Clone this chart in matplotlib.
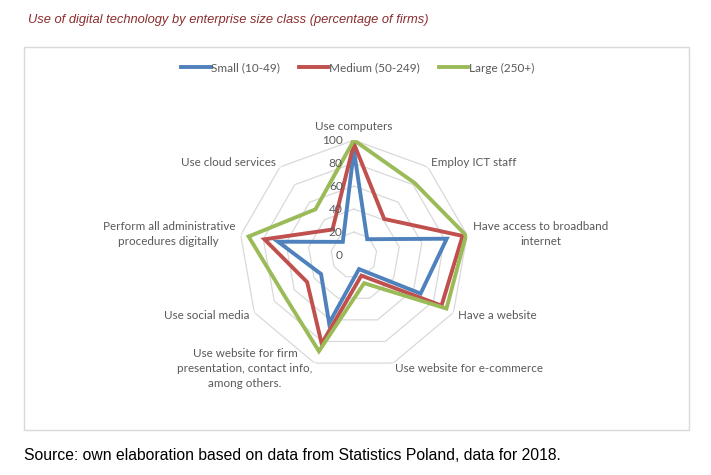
import numpy as np
import matplotlib
matplotlib.use("Agg")
import matplotlib.pyplot as plt
from matplotlib.patches import Rectangle

plt.rcParams['font.family'] = ['Lato', 'DejaVu Sans']

categories = ["Use computers", "Employ ICT staff",
              "Have access to broadband\ninternet", "Have a website",
              "Use website for e-commerce",
              "Use website for firm\npresentation, contact info,\namong others.",
              "Use social media",
              "Perform all administrative\nprocedures digitally",
              "Use cloud services"]
small = [91, 18, 82, 67, 13, 63, 33, 67, 15]
medium = [97, 41, 96, 88, 19, 82, 47, 79, 29]
large = [100, 82, 99, 93, 26, 89, 70, 93, 52]
series_names = ["Small (10-49)", "Medium (50-249)", "Large (250+)"]
colors = ["#4F81BD", "#C0504D", "#9BBB59"]
r_ticks = [0, 20, 40, 60, 80, 100]

n = len(categories)
theta = np.arange(n) * 2 * np.pi / n

fig = plt.figure(figsize=(7.11, 4.75), dpi=100)

# chart frame
fig.add_artist(Rectangle((24 / 711, 1 - 430 / 475), 665 / 711, 383 / 475,
                         transform=fig.transFigure, fill=False,
                         edgecolor="#d9d9d9", linewidth=1))

ax = fig.add_axes([0.336, 0.221, 0.3235, 0.484], projection="polar")
ax.set_theta_zero_location("N")
ax.set_theta_direction(-1)
ax.set_ylim(0, 100)
ax.grid(False)
ax.spines["polar"].set_visible(False)
ax.set_xticks([])
ax.set_yticks([])
ax.patch.set_alpha(0)

# polygon gridlines
tc = np.append(theta, theta[0])
for r in r_ticks[1:]:
    ax.plot(tc, [r] * (n + 1), color="#d9d9d9", lw=0.9, zorder=1)

for vals, col, name in zip([small, medium, large], colors, series_names):
    v = list(vals) + [vals[0]]
    ax.plot(tc, v, color=col, lw=2.8, label=name, zorder=3,
            solid_joinstyle="miter")

for r in r_ticks:
    ax.annotate(str(r), (0, r), xytext=(-8, 0), textcoords="offset points",
                ha="right", va="center", fontsize=8.6, color="#595959", zorder=4)

for i, lab in enumerate(categories):
    a = theta[i]
    if i == 0:
        ha = "center"
        rr = 112
    elif a < np.pi:
        ha = "left"
        rr = 105
    else:
        ha = "right"
        rr = 105
    ax.text(a, rr, lab, ha=ha, va="center", fontsize=8.4, color="#595959",
            multialignment="center", linespacing=1.4)

fig.legend(loc="center", bbox_to_anchor=(0.503, 1 - 68 / 475), ncol=3,
           frameon=False, fontsize=8.5, handlelength=2.5, handletextpad=0.05,
           columnspacing=1.6, labelcolor="#595959")

fig.text(28 / 711, 1 - 20 / 475, "Use of digital technology by enterprise size class (percentage of firms)",
         fontsize=9.3, style="italic", color="#8B2D2D", va="center", ha="left",
         family=["Liberation Sans", "DejaVu Sans"])
fig.text(24 / 711, 1 - 456 / 475, "Source: own elaboration based on data from Statistics Poland, data for 2018.",
         fontsize=11.3, color="black", va="center", ha="left",
         family=["Liberation Sans", "DejaVu Sans"])

fig.savefig("out.png", dpi=100)
